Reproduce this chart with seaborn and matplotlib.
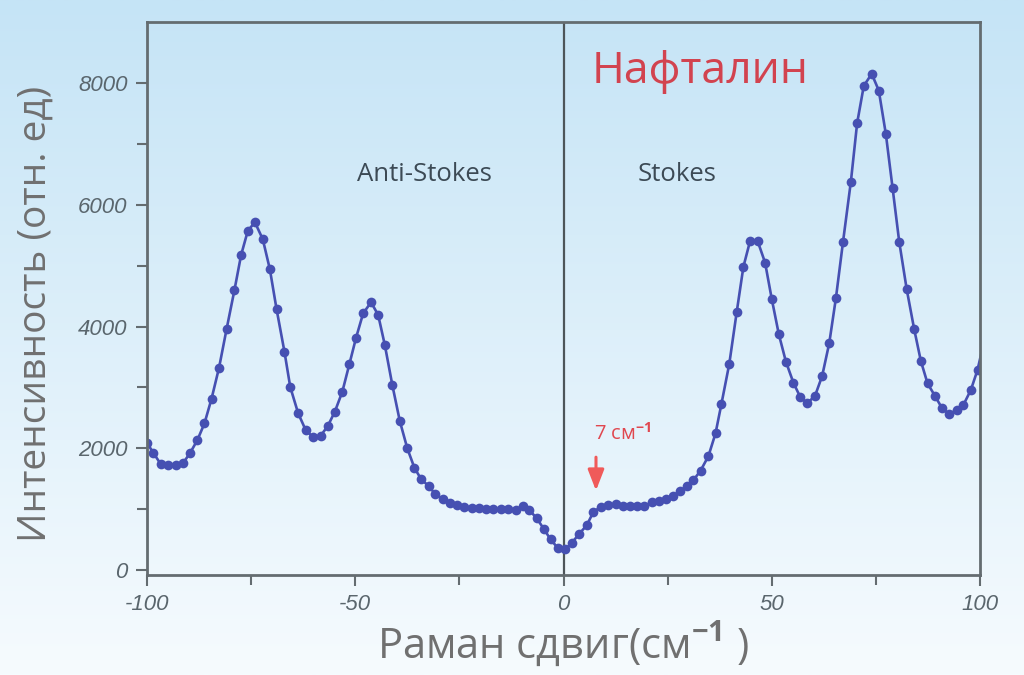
import numpy as np
import matplotlib
matplotlib.use("Agg")
import matplotlib.pyplot as plt
import seaborn as sns
import pandas as pd

# ---- data ----
shift = [-100.0, -98.5, -96.7, -94.9, -93.1, -91.4, -89.7, -87.9, -86.2, -84.5,
         -82.7, -80.9, -79.0, -77.4, -75.8, -74.1, -72.2, -70.5, -68.9, -67.0,
         -65.6, -63.7, -61.9, -60.1, -58.3, -56.6, -54.9, -53.1, -51.4, -49.8,
         -48.1, -46.2, -44.5, -42.9, -41.1, -39.3, -37.5, -35.8, -34.2, -32.3,
         -30.8, -29.0, -27.3, -25.5, -23.8, -22.0, -20.3, -18.6, -16.9, -15.1,
         -13.3, -11.5, -9.8, -8.2, -6.4, -4.7, -3.1, -1.4, 0.4, 2.0,
         3.8, 5.6, 7.2, 9.0, 10.8, 12.5, 14.2, 16.0, 17.7, 19.4,
         21.2, 22.9, 24.5, 26.2, 28.0, 29.6, 31.2, 32.9, 34.8, 36.5,
         37.9, 39.8, 41.6, 43.2, 44.8, 46.6, 48.4, 50.0, 51.7, 53.4,
         55.2, 56.8, 58.5, 60.4, 62.1, 63.8, 65.4, 67.1, 69.0, 70.5,
         72.1, 74.0, 75.7, 77.4, 79.0, 80.6, 82.4, 84.2, 85.8, 87.4,
         89.2, 90.9, 92.6, 94.4, 96.0, 97.8, 99.4, 101.2]
intensity = [2090, 1927, 1741, 1725, 1725, 1753, 1917, 2136, 2410, 2815,
             3324, 3955, 4600, 5175, 5570, 5713, 5433, 4940, 4288, 3587,
             3005, 2574, 2300, 2180, 2207, 2366, 2601, 2930, 3385, 3817,
             4217, 4398, 4190, 3697, 3040, 2448, 1999, 1681, 1495, 1375,
             1249, 1167, 1106, 1068, 1040, 1014, 1014, 997, 997, 997,
             997, 986, 1052, 986, 849, 674, 504, 366, 340, 449,
             597, 739, 958, 1040, 1068, 1084, 1052, 1057, 1057, 1057,
             1112, 1139, 1167, 1216, 1298, 1380, 1479, 1632, 1873, 2246,
             2722, 3385, 4244, 4983, 5405, 5405, 5049, 4453, 3872, 3423,
             3077, 2848, 2738, 2864, 3187, 3725, 4464, 5384, 6380, 7339,
             7952, 8149, 7875, 7158, 6281, 5394, 4612, 3955, 3434, 3067,
             2859, 2657, 2563, 2629, 2711, 2957, 3286, 3820]

x_ticks = [-100, -50, 0, 50, 100]
x_minor = [-75, -25, 25, 75]
y_ticks = [0, 2000, 4000, 6000, 8000]
y_minor = [1000, 3000, 5000, 7000]

title_text = "Нафталин"
left_label = "Anti-Stokes"
right_label = "Stokes"
marker_text = "7 см$^{\\mathbf{-1}}$"
xlabel = "Раман сдвиг(см$^{\\mathbf{-1}}$ )"
ylabel = "Интенсивность (отн. ед)"

df = pd.DataFrame({"shift": shift, "intensity": intensity})

sns.set_style("ticks")
plt.rcParams["font.family"] = ["Open Sans", "DejaVu Sans"]
plt.rcParams["mathtext.fontset"] = "custom"
plt.rcParams["mathtext.rm"] = "Open Sans"
plt.rcParams["mathtext.bf"] = "Open Sans:bold"

fig = plt.figure(figsize=(10.24, 6.75), dpi=100)

# background gradient
bg = fig.add_axes([0, 0, 1, 1], zorder=-10)
top = np.array([197, 228, 246]) / 255.0
bot = np.array([246, 251, 254]) / 255.0
t = np.linspace(0, 1, 256)[:, None]
grad = top[None, :] * (1 - t) + bot[None, :] * t
bg.imshow(grad[:, None, :], aspect="auto", extent=[0, 1, 0, 1], origin="upper")
bg.set_axis_off()

ax = fig.add_axes([147 / 1024, 1 - 575 / 675, (980 - 147) / 1024, (575 - 22) / 675])
ax.set_facecolor("none")

line_color = "#4650b2"
sns.lineplot(data=df, x="shift", y="intensity", ax=ax, color=line_color,
             linewidth=1.9, marker="o", markersize=7, markeredgewidth=0,
             sort=False)

ax.set_xlim(-100, 100)
ax.set_ylim(-80, 9000)
ax.axvline(0, color="#4d5559", lw=1.6, zorder=1)

spine_col = "#646c70"
for s in ax.spines.values():
    s.set_color(spine_col)
    s.set_linewidth(2)

ax.set_xticks(x_ticks)
ax.set_xticks(x_minor, minor=True)
ax.set_yticks(y_ticks)
ax.set_yticks(y_minor, minor=True)
ax.set_xticklabels([str(v) for v in x_ticks])
ax.set_yticklabels([str(v) for v in y_ticks])
ax.tick_params(axis="both", which="both", direction="out", color=spine_col,
               width=1.5)
ax.tick_params(axis="both", which="major", length=8)
ax.tick_params(axis="both", which="minor", length=7)
for lab in ax.get_yticklabels() + ax.get_xticklabels():
    lab.set_fontfamily("Liberation Sans")
    lab.set_fontstyle("italic")
    lab.set_fontsize(16)
    lab.set_color("#5a666d")
ax.tick_params(axis="x", pad=6)
ax.tick_params(axis="y", pad=6)

ax.set_xlabel(xlabel, fontsize=30, color="#707070", labelpad=3)
ax.set_ylabel(ylabel, fontsize=28, color="#707070")
ax.yaxis.set_label_coords(-0.111, 0.472)

ax.text(32.8, 8180, title_text, fontsize=32, color="#d2434f", ha="center",
        va="center")
ax.text(-33.3, 6490, left_label, fontsize=18.5, color="#3c4a55", ha="center",
        va="center")
ax.text(27.3, 6490, right_label, fontsize=18.5, color="#3c4a55", ha="center",
        va="center")
ax.text(14.2, 2230, marker_text, fontsize=14.5, color="#e0474f", ha="center",
        va="center")
ax.annotate("", xy=(7.8, 1260), xytext=(7.8, 1900),
            arrowprops=dict(arrowstyle="-|>,head_width=0.35,head_length=0.9",
                            color="#f05a5a", lw=2.2, mutation_scale=14))

fig.savefig("out.png", dpi=100)
